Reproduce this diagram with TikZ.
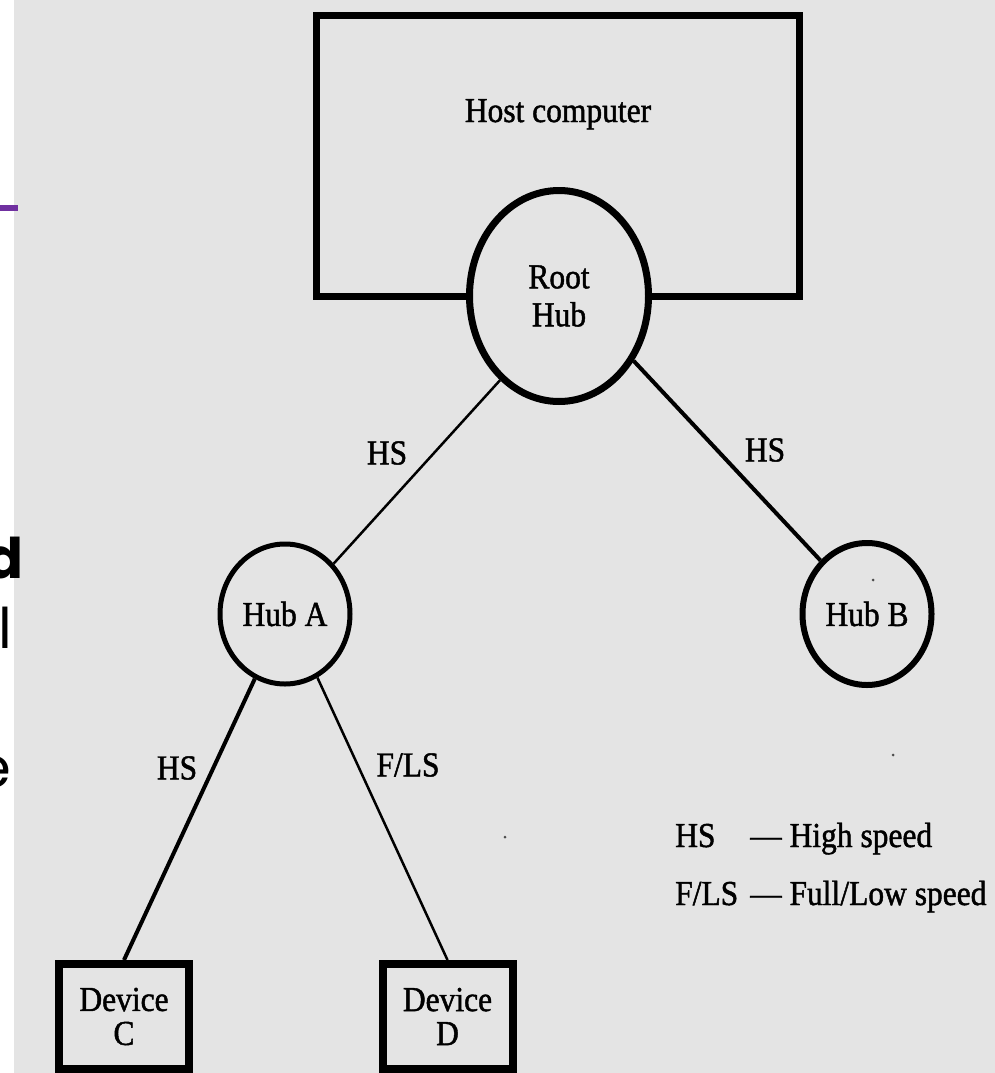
\documentclass[tikz,border=0pt]{standalone}
\usepackage{fontspec}
\setmainfont{Liberation Serif}[FakeStretch=0.9, FakeBold=1.3]
\newfontfamily\slidefont{Poppins}
\usetikzlibrary{shapes.geometric}
\definecolor{paper}{RGB}{228,228,228}
\definecolor{slidepurple}{RGB}{112,48,160}
\tikzset{
  txt/.style={font=\fontsize{35}{38}\selectfont, inner sep=0pt, align=center},
  hubnode/.style={ellipse, draw, fill=paper, inner sep=0pt, txt},
  devbox/.style={rectangle, draw, line width=8pt, inner sep=0pt,
    minimum width=130pt, minimum height=105pt, txt,
    font=\fontsize{35}{34}\selectfont},
  link/.style={line width=#1},
  link/.default=3pt,
  speck/.style={fill=black!70, circle, inner sep=0pt, minimum size=3pt}
}
\begin{document}
\begin{tikzpicture}[x=1pt,y=-1pt]
  \useasboundingbox (0,0) rectangle (995,1073);
  % page background: white strip on the left, grey scan behind the figure
  \fill[white] (0,0) rectangle (995,1073);
  \fill[paper] (14,0) rectangle (995,1073);
  \fill[slidepurple] (0,205) rectangle (18,211);
  % cut-off letters of the neighbouring slide text
  \node[anchor=base east, inner sep=0pt, font=\slidefont\bfseries\fontsize{56}{60}\selectfont] (fragd) at (24,578) {d};
  \node[anchor=base east, inner sep=0pt, font=\slidefont\fontsize{56}{60}\selectfont] (fragl) at (12,648) {l};
  \node[anchor=base east, inner sep=0pt, font=\slidefont\fontsize{56}{60}\selectfont] (frage) at (11,787) {e};

  % host computer with its root hub
  \node[rectangle, draw, line width=7pt, minimum width=483pt, minimum height=281pt, inner sep=0pt] (host) at (558,156) {};
  \node[txt, anchor=base] (hostlabel) at (558,122) {Host computer};
  \node[hubnode, line width=7pt, minimum width=179pt, minimum height=211pt] (root) at (559,296) {Root\\Hub};

  % second tier hubs
  \node[hubnode, line width=5pt, minimum width=130pt, minimum height=140pt] (hubA) at (285,614) {Hub A};
  \node[hubnode, line width=6pt, minimum width=129pt, minimum height=142pt] (hubB) at (867,614) {Hub B};

  % devices
  \node[devbox] (devC) at (124,1016.5) {Device\\C};
  \node[devbox] (devD) at (447.5,1016.5) {Device\\D};

  % connections
  \draw[link=2.5pt] (root.-125) -- (hubA.46);
  \draw[link=4pt] (root.-41) -- (hubB.131);
  \draw[link=4pt] (hubA.-115) -- (devC.north);
  \draw[link=2.5pt] (hubA.-63) -- (devD.north);

  % link labels
  \node[txt] (lblA) at (387,453) {HS};
  \node[txt] (lblB) at (765,450) {HS};
  \node[txt] (lblC) at (177,768) {HS};
  \node[txt] (lblD) at (408,765) {F/LS};

  % legend
  \node[txt, anchor=base west] (keyhs) at (675,847) {HS};
  \node[txt, anchor=base west] (keyhsdesc) at (750,847) {--- High speed};
  \node[txt, anchor=base west] (keyfls) at (675,905) {F/LS};
  \node[txt, anchor=base west] (keyflsdesc) at (750,905) {--- Full/Low speed};

  % specks on the scan
  \node[speck] (s1) at (505,837) {};
  \node[speck] (s2) at (873,580) {};
  \node[speck] (s3) at (893,755) {};
\end{tikzpicture}
\end{document}
